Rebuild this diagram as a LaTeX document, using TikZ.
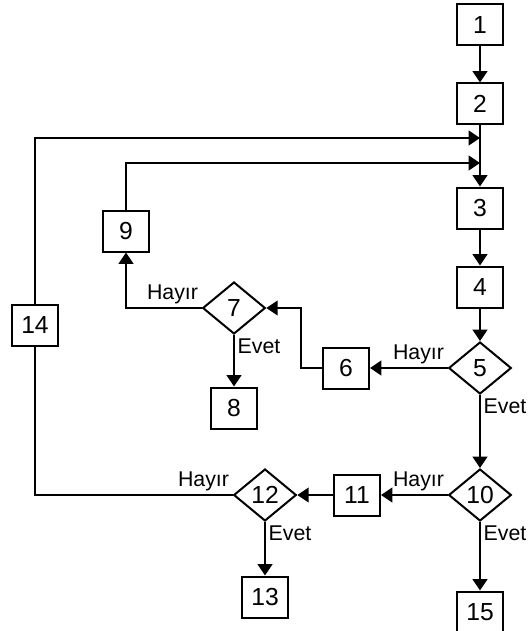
\documentclass[tikz,border=0pt]{standalone}
\usepackage{fontspec}
\setmainfont{Liberation Sans}
\usetikzlibrary{arrows.meta,shapes.geometric}

\begin{document}
\begin{tikzpicture}[x=0.75pt,y=-0.75pt,line width=1.5pt,
    box/.style={draw,minimum width=34.5pt,minimum height=30.75pt,inner sep=0pt,font=\fontsize{18.5}{20}\selectfont},
    karar/.style={draw,diamond,aspect=1.2,minimum width=47pt,minimum height=39pt,inner sep=0pt,font=\fontsize{18.5}{20}\selectfont},
    arr/.style={-{Triangle[width=11pt,length=8.5pt]}},
    lbl/.style={font=\fontsize{16}{18}\selectfont,inner sep=2pt}]
            \useasboundingbox (0,0) rectangle (531,631);

            \foreach \n/\x/\y in {1/480/25,2/480/104,3/480/208,4/480/287,6/346/368,8/234/408,
                                  9/126/231,14/35/325,11/357/495,13/265/597,15/480/612} {
                \node[box] (n\n) at (\x,\y) {\n};
            }
            \foreach \n/\x/\y in {5/480/368,7/234/308,10/480/495,12/265/495} {
                \node[karar] (n\n) at (\x,\y) {\n};
            }

            \coordinate (m14) at (480,138);
            \coordinate (m9) at (480,163);

            \draw[arr] (n1) -- (n2);
            \draw[arr] (n2) -- (n3);
            \draw[arr] (n3) -- (n4);
            \draw[arr] (n4) -- (n5);
            \draw[arr] (n14.north) |- (m14);
            \draw[arr] (n9.north) |- (m9);

            \draw[arr] (n5.west) -- node[lbl,pos=0,above left] {Hayır} (n6.east);
            \draw[arr] (n6.west) -- ++(-21,0) |- (n7.east);
            \draw[arr] (n7.west) -| node[lbl,pos=0,above left] {Hayır} (n9.south);
            \draw[arr] (n7.south) -- node[lbl,pos=0,below right] {Evet} (n8.north);

            \draw[arr] (n5.south) -- node[lbl,pos=0,below right] {Evet} (n10.north);
            \draw[arr] (n10.west) -- node[lbl,pos=0,above left] {Hayır} (n11.east);
            \draw[arr] (n11.west) -- (n12.east);
            \draw (n12.west) -| node[lbl,pos=0,above left] {Hayır} (n14.south);
            \draw[arr] (n12.south) -- node[lbl,pos=0,below right] {Evet} (n13.north);
            \draw[arr] (n10.south) -- node[lbl,pos=0,below right] {Evet} (n15.north);
        \end{tikzpicture}
\end{document}
